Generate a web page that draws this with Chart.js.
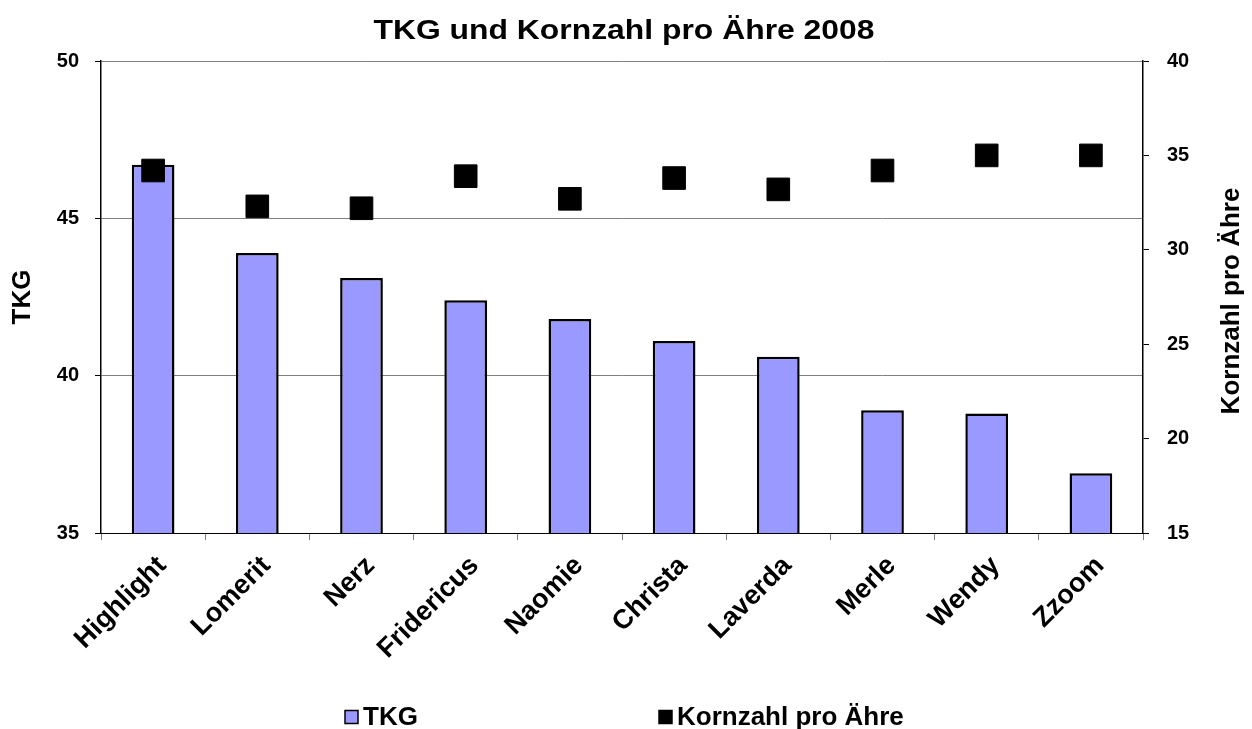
<!DOCTYPE html>
<html><head><meta charset="utf-8">
<script src="https://cdn.jsdelivr.net/npm/chart.js@4"></script>
<style>html,body{margin:0;padding:0;background:#fff;}#wrap{width:1252px;height:729px;}</style>
</head><body><div id="wrap"><canvas id="c" width="1252" height="729"></canvas></div>
<script>
const categories = ['Highlight','Lomerit','Nerz','Fridericus','Naomie','Christa','Laverda','Merle','Wendy','Zzoom'];
const tkgValues = [46.7, 43.9, 43.1, 42.4, 41.8, 41.1, 40.6, 38.9, 38.8, 36.9];
const kornzahlValues = [34.2, 32.3, 32.2, 33.9, 32.7, 33.8, 33.2, 34.2, 35.0, 35.0];
const leftTicks = [35, 40, 45, 50];
const rightTicks = [15, 20, 25, 30, 35, 40];
const chartTitle = 'TKG und Kornzahl pro Ähre 2008';
const leftAxisTitle = 'TKG';
const rightAxisTitle = 'Kornzahl pro Ähre';
const seriesNames = ['TKG', 'Kornzahl pro Ähre'];

const FONT = '"Liberation Sans", Arial, sans-serif';
const BAR_COLOR = '#9999FF';

const textPlugin = {
  id: 'textPlugin',
  afterDraw(chart) {
    const ctx = chart.ctx;
    const ca = chart.chartArea;
    ctx.save();
    ctx.fillStyle = '#000';
    // title (slightly widened like the original)
    ctx.save();
    ctx.translate((ca.left + ca.right) / 2 + 2, 32);
    ctx.scale(1.18, 1);
    ctx.font = 'bold 27px ' + FONT;
    ctx.textAlign = 'center';
    ctx.textBaseline = 'middle';
    ctx.fillText(chartTitle, 0, 0);
    ctx.restore();
    // right axis title, reading bottom to top
    ctx.save();
    ctx.translate(1232, (ca.top + ca.bottom) / 2 + 4);
    ctx.rotate(-Math.PI / 2);
    ctx.font = 'bold 26px ' + FONT;
    ctx.textAlign = 'center';
    ctx.textBaseline = 'middle';
    ctx.fillText(rightAxisTitle, 0, 0);
    ctx.restore();
    // legend
    ctx.font = 'bold 26px ' + FONT;
    ctx.textAlign = 'left';
    ctx.textBaseline = 'middle';
    const ly = 717;
    const items = [
      {x: 345, fill: BAR_COLOR, label: seriesNames[0]},
      {x: 659, fill: '#000', label: seriesNames[1]}
    ];
    items.forEach(it => {
      ctx.fillStyle = it.fill;
      ctx.fillRect(it.x, ly - 6.5, 13, 13);
      ctx.strokeStyle = '#000';
      ctx.lineWidth = 1.5;
      ctx.strokeRect(it.x, ly - 6.5, 13, 13);
      ctx.fillStyle = '#000';
      ctx.fillText(it.label, it.x + 18, ly + 1);
    });
    ctx.restore();
  }
};

new Chart(document.getElementById('c'), {
  data: {
    labels: categories,
    datasets: [
      {
        type: 'line',
        label: seriesNames[1],
        data: kornzahlValues,
        yAxisID: 'y1',
        showLine: false,
        pointStyle: 'rect',
        pointRadius: 16,
        pointHoverRadius: 16,
        pointBackgroundColor: '#000',
        pointBorderColor: '#000',
        pointBorderWidth: 1,
        order: 0
      },
      {
        type: 'bar',
        label: seriesNames[0],
        data: tkgValues,
        yAxisID: 'y',
        backgroundColor: BAR_COLOR,
        borderColor: '#000',
        borderWidth: 2.5,
        barPercentage: 0.41,
        categoryPercentage: 1.0,
        order: 1
      }
    ]
  },
  plugins: [textPlugin],
  options: {
    responsive: false,
    devicePixelRatio: 1,
    animation: false,
    layout: {padding: {top: 61, left: 0, right: 0, bottom: 0}},
    plugins: {legend: {display: false}, title: {display: false}, tooltip: {enabled: false}},
    scales: {
      x: {
        type: 'category',
        offset: true,
        grid: {offset: true, drawOnChartArea: false, drawTicks: true, tickLength: 7, color: '#808080'},
        border: {display: true, color: '#000', width: 1},
        ticks: {
          maxRotation: 45, minRotation: 45, autoSkip: false, padding: 10, labelOffset: 9,
          color: '#000', font: {family: FONT, weight: 'bold', size: 27}
        },
        afterFit(scale) { scale.height = 196; }
      },
      y: {
        position: 'left',
        min: leftTicks[0], max: leftTicks[leftTicks.length - 1],
        afterBuildTicks(scale) { scale.ticks = leftTicks.map(v => ({value: v})); },
        grid: {
          drawOnChartArea: true, drawTicks: true, tickLength: 6,
          color: c => (c.tick && c.tick.value === leftTicks[0]) ? '#000' : '#808080',
          tickColor: '#000'
        },
        border: {display: true, color: '#000', width: 1.5},
        ticks: {padding: 16, color: '#000', font: {family: FONT, weight: 'bold', size: 20}},
        title: {display: true, text: leftAxisTitle, color: '#000', padding: {top: 7, bottom: 0},
          font: {family: FONT, weight: 'bold', size: 26}},
        afterFit(scale) { scale.width = 101; }
      },
      y1: {
        position: 'right',
        min: rightTicks[0], max: rightTicks[rightTicks.length - 1],
        afterBuildTicks(scale) { scale.ticks = rightTicks.map(v => ({value: v})); },
        grid: {drawOnChartArea: false, drawTicks: true, tickLength: 6, color: '#000'},
        border: {display: true, color: '#000', width: 1.5},
        ticks: {padding: 18, color: '#000', font: {family: FONT, weight: 'bold', size: 20}},
        afterFit(scale) { scale.width = 109; }
      }
    }
  }
});
</script>
</body></html>
